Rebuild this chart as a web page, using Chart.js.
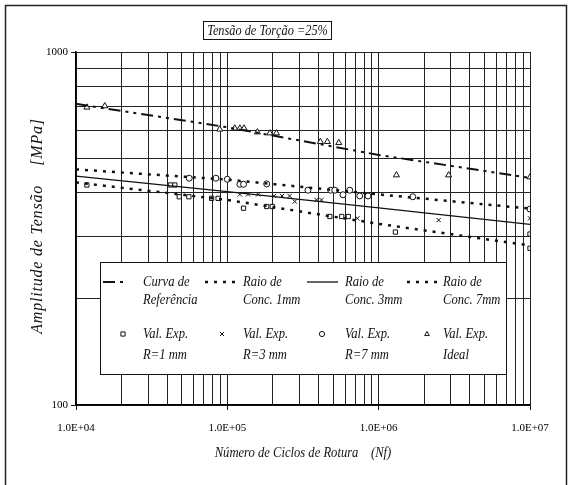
<!DOCTYPE html>
<html>
<head>
<meta charset="utf-8">
<title>Tensão de Torção = 25%</title>
<script src="https://cdn.jsdelivr.net/npm/chart.js@4.4.1/dist/chart.umd.min.js"></script>
<style>
  html, body { margin: 0; padding: 0; background: #fff; }
  canvas { display: block; }
</style>
</head>
<body>
<canvas id="sncurve" width="572" height="485"></canvas>
<script>
// curves (Nf -> stress amplitude in MPa)
const curveCycles = [1e4, 1e5, 1e6, 1e7];
const refCurve = [713, 612, 511, 440];
const conc1mm = [427, 381, 326, 283];
const conc3mm = [445, 402, 362, 325];
const conc7mm = [465, 435, 395, 360];

// experimental points
const expR1Cycles = [1.18e4, 4.21e4, 4.5e4, 4.81e4, 5.57e4, 7.87e4, 8.69e4, 1.28e5, 1.82e5, 1.98e5, 4.76e5, 5.7e5, 6.3e5, 1.29e6, 1e7, 1e7];
const expR1Stress = [420, 420, 420, 389, 389, 385, 385, 361, 365, 365, 342, 342, 342, 309, 305, 278];
const expR3Cycles = [1.21e5, 1.37e5, 1.6e5, 2.04e5, 2.3e5, 2.58e5, 2.79e5, 3.88e5, 4.19e5, 7.23e5, 2.49e6, 1e7];
const expR3Stress = [395, 395, 395, 391, 391, 391, 377, 381, 381, 338, 334, 338];
const expR7Cycles = [5.6e4, 8.4e4, 1.0e5, 1.21e5, 1.28e5, 1.82e5, 3.41e5, 4.82e5, 5.13e5, 6.44e5, 5.81e5, 7.5e5, 8.5e5, 1.68e6, 1e7];
const expR7Stress = [439, 439, 436, 422, 422, 423, 406, 406, 406, 406, 394, 391, 391, 389, 359];
const expIdealCycles = [1.18e4, 1.55e4, 8.9e4, 1.12e5, 1.21e5, 1.29e5, 1.58e5, 1.91e5, 2.11e5, 4.12e5, 4.58e5, 5.45e5, 1.31e6, 2.9e6, 1e7];
const expIdealStress = [697, 703, 604, 608, 608, 608, 593, 589, 589, 557, 557, 553, 448, 448, 442];

// axis ticks
const xMajor = [1e4, 1e5, 1e6, 1e7];
const xTickLabels = ['1.0E+04', '1.0E+05', '1.0E+06', '1.0E+07'];
const yMajor = [100, 1000];
const yTickLabels = ['100', '1000'];

// legend text (two lines per entry)
const legendLineText = [['Curva de', 'Referência'], ['Raio de', 'Conc. 1mm'], ['Raio de', 'Conc. 3mm'], ['Raio de', 'Conc. 7mm']];
const legendPointText = [['Val. Exp.', 'R=1 mm'], ['Val. Exp.', 'R=3 mm'], ['Val. Exp.', 'R=7 mm'], ['Val. Exp.', 'Ideal']];

const INK = '#111';
const SERIF = "'Liberation Serif', 'DejaVu Serif', serif";

// log grid: 1..9 per decade
function logGrid(from, to) {
    const vals = [];
    for (let d = from; d < to; d *= 10) {
        for (let k = 1; k < 10; k++) vals.push(k * d);
    }
    vals.push(to);
    return vals;
}

const zip = (xs, ys) => xs.map((x, i) => ({ x, y: ys[i] }));

function lineSet(label, values, dash, width) {
    return {
        type: 'line', label, data: zip(curveCycles, values),
        borderColor: INK, borderWidth: width, borderDash: dash, borderCapStyle: 'butt',
        pointRadius: 0, tension: 0, fill: false,
    };
}

function pointSet(label, xs, ys, style, r) {
    return {
        type: 'scatter', label, data: zip(xs, ys),
        showLine: false, pointStyle: style, pointRadius: r,
        borderColor: INK, backgroundColor: '#fff', pointBorderWidth: 1,
    };
}

const datasets = [
    lineSet('Curva de Referência', refCurve, [12, 5, 3, 5, 3, 5], 2),
    lineSet('Raio de Conc. 1mm', conc1mm, [3, 6], 2.5),
    lineSet('Raio de Conc. 3mm', conc3mm, [], 1.3),
    lineSet('Raio de Conc. 7mm', conc7mm, [3, 6], 2.5),
    pointSet('Val. Exp. R=1 mm', expR1Cycles, expR1Stress, 'rect', 3),
    pointSet('Val. Exp. R=3 mm', expR3Cycles, expR3Stress, 'crossRot', 3),
    pointSet('Val. Exp. R=7 mm', expR7Cycles, expR7Stress, 'circle', 3),
    pointSet('Val. Exp. Ideal', expIdealCycles, expIdealStress, 'triangle', 3.5),
];

function drawMarker(ctx, style, x, y, r) {
    ctx.beginPath();
    if (style === 'rect') {
        ctx.rect(x - r * 0.8, y - r * 0.8, r * 1.6, r * 1.6);
    } else if (style === 'circle') {
        ctx.arc(x, y, r, 0, Math.PI * 2);
    } else if (style === 'triangle') {
        ctx.moveTo(x, y - r);
        ctx.lineTo(x + r * 0.9, y + r * 0.6);
        ctx.lineTo(x - r * 0.9, y + r * 0.6);
        ctx.closePath();
    } else {
        const d = r * 0.8;
        ctx.moveTo(x - d, y - d); ctx.lineTo(x + d, y + d);
        ctx.moveTo(x + d, y - d); ctx.lineTo(x - d, y + d);
    }
    ctx.fillStyle = '#fff';
    if (style !== 'crossRot') ctx.fill();
    ctx.stroke();
}

// the scan uses a narrow italic face, so squeeze the text a bit
function narrowText(ctx, text, x, y, sx) {
    ctx.save();
    ctx.translate(x, y);
    ctx.scale(sx, 1);
    ctx.fillText(text, 0, 0);
    ctx.restore();
}

// frame, title box, axis titles and the boxed legend
const decorations = {
    id: 'decorations',
    afterDraw(chart) {
        const { ctx } = chart;
        ctx.save();

        // frame around the figure
        ctx.strokeStyle = '#222';
        ctx.lineWidth = 1.5;
        ctx.setLineDash([]);
        ctx.beginPath();
        ctx.moveTo(5.5, 490); ctx.lineTo(5.5, 5.5); ctx.lineTo(566.5, 5.5); ctx.lineTo(566.5, 490);
        ctx.stroke();

        // title box
        ctx.lineWidth = 1;
        ctx.fillStyle = '#fff';
        ctx.fillRect(203, 21, 129, 19);
        ctx.strokeStyle = INK;
        ctx.strokeRect(203.5, 21.5, 128, 18);
        ctx.fillStyle = INK;
        ctx.font = 'italic 14px ' + SERIF;
        ctx.textAlign = 'center';
        ctx.textBaseline = 'middle';
        narrowText(ctx, 'Tensão de Torção =25%', 267.5, 31, 0.88);

        // axis titles
        ctx.font = 'italic 14px ' + SERIF;
        narrowText(ctx, 'Número de Ciclos de Rotura    (Nf)', 303, 453, 0.9);
        ctx.save();
        ctx.translate(38, 226);
        ctx.rotate(-Math.PI / 2);
        ctx.font = 'italic 16px ' + SERIF;
        if ('letterSpacing' in ctx) ctx.letterSpacing = '0.8px';
        ctx.fillText('Amplitude de Tensão    [MPa]', 0, 0);
        ctx.restore();

        // legend box
        ctx.fillStyle = '#fff';
        ctx.fillRect(100, 262, 407, 113);
        ctx.strokeStyle = INK;
        ctx.lineWidth = 1;
        ctx.strokeRect(100.5, 262.5, 406, 112);

        const sampleFrom = [103, 205, 307, 407];
        const sampleTo = [126, 240, 338, 440];
        const textX = [143, 243, 345, 443];
        const markX = [123, 222, 322, 427];
        ctx.font = 'italic 14px ' + SERIF;
        ctx.textAlign = 'left';

        for (let i = 0; i < 4; i++) {
            const ds = datasets[i];
            ctx.strokeStyle = INK;
            ctx.lineWidth = ds.borderWidth;
            ctx.lineCap = 'butt';
            ctx.setLineDash(ds.borderDash);
            ctx.beginPath();
            ctx.moveTo(sampleFrom[i], 282);
            ctx.lineTo(sampleTo[i], 282);
            ctx.stroke();
            ctx.setLineDash([]);
            ctx.fillStyle = INK;
            narrowText(ctx, legendLineText[i][0], textX[i], 282, 0.9);
            narrowText(ctx, legendLineText[i][1], textX[i], 300, 0.9);

            const ps = datasets[i + 4];
            ctx.lineWidth = 1;
            drawMarker(ctx, ps.pointStyle, markX[i], 334, 2.6);
            ctx.fillStyle = INK;
            narrowText(ctx, legendPointText[i][0], textX[i], 334, 0.9);
            narrowText(ctx, legendPointText[i][1], textX[i], 355, 0.9);
        }
        ctx.restore();
    },
};

const ctx = document.getElementById('sncurve').getContext('2d');
new Chart(ctx, {
    data: { datasets },
    options: {
        responsive: false,
        animation: false,
        layout: { padding: { left: 0, top: 52, right: 42, bottom: 0 } },
        plugins: { legend: { display: false }, tooltip: { enabled: false } },
        scales: {
            x: {
                type: 'logarithmic', min: 1e4, max: 1e7,
                afterFit(scale) { scale.height = 80; },
                afterBuildTicks(scale) { scale.ticks = logGrid(1e4, 1e7).map(v => ({ value: v })); },
                ticks: {
                    autoSkip: false, maxRotation: 0, padding: 12, color: '#000',
                    font: { family: SERIF, size: 11 },
                    callback: v => { const i = xMajor.indexOf(v); return i >= 0 ? xTickLabels[i] : ''; },
                },
                grid: {
                    color: '#222', lineWidth: 1, tickLength: 5,
                    tickColor: c => (c.tick && xMajor.includes(c.tick.value) ? INK : 'rgba(0,0,0,0)'),
                },
                border: { color: '#000', width: 1.5 },
            },
            y: {
                type: 'logarithmic', min: 100, max: 1000,
                afterFit(scale) { scale.width = 76; },
                afterBuildTicks(scale) { scale.ticks = logGrid(100, 1000).map(v => ({ value: v })); },
                ticks: {
                    autoSkip: false, padding: 3, color: '#000',
                    font: { family: SERIF, size: 11 },
                    callback: v => { const i = yMajor.indexOf(v); return i >= 0 ? yTickLabels[i] : ''; },
                },
                grid: {
                    color: '#222', lineWidth: 1, tickLength: 5,
                    tickColor: c => (c.tick && yMajor.includes(c.tick.value) ? INK : 'rgba(0,0,0,0)'),
                },
                border: { color: '#000', width: 1.5 },
            },
        },
    },
    plugins: [decorations],
});
</script>
</body>
</html>
